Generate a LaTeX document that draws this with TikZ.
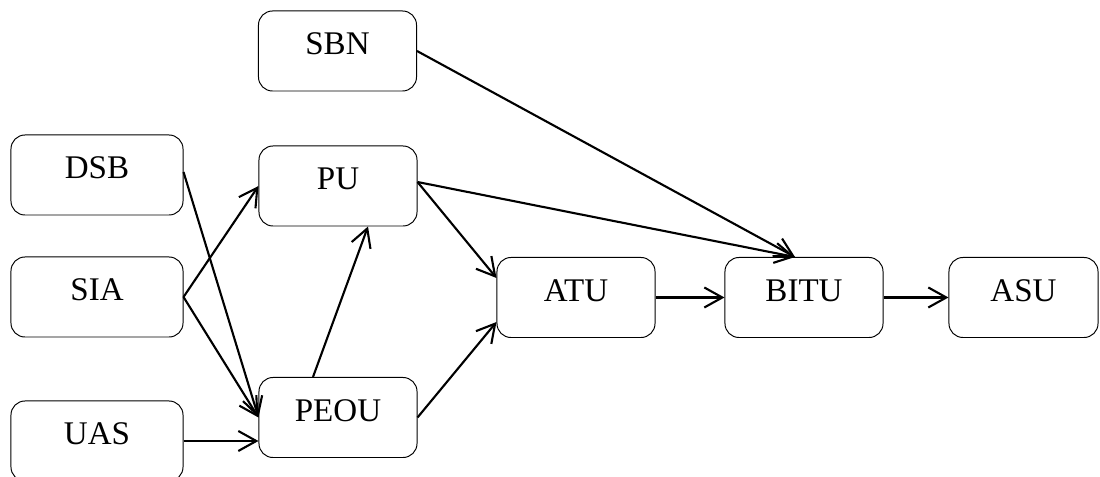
\documentclass[tikz,border=0pt]{standalone}
\usepackage{fontspec}
\setmainfont{Liberation Serif}
\usetikzlibrary{calc,arrows.meta}

\begin{document}
\begin{tikzpicture}[x=0.025cm,y=-0.025cm,
	box/.style={draw,line width=0.7pt,rounded corners=0.35cm,minimum height=2cm,
		inner sep=0pt,text height=0.2cm,text depth=0cm,
		font=\fontsize{23.5}{28}\selectfont},
	wide/.style={box,minimum width=4.3cm},
	mid/.style={box,minimum width=3.95cm},
	link/.style={line width=1.5pt,-{Straight Barb[length=0.45cm,width=0.5cm,line width=1.5pt]}}]
\useasboundingbox (0,0) rectangle (1100,477);

%% left column
\node[wide] (DSB) at (97,175) {DSB};
\node[wide] (SIA) at (97,297) {SIA};
\node[wide] (UAS) at (97,441) {UAS};

%% middle column
\node[mid] (SBN) at (337.5,51) {SBN};
\node[mid] (PU) at (338,186) {PU};
\node[mid] (PEOU) at (338,417.5) {PEOU};

%% right row
\node[mid] (ATU) at (576,297.5) {ATU};
\node[mid] (BITU) at (804,297.5) {BITU};
\node[box,minimum width=3.725cm] (ASU) at (1023.5,297.5) {ASU};

%% into PEOU and PU
\draw [link] ($(DSB.east)+(0,-3)$)--(PEOU.west);
\draw [link] (SIA.east)--(PU.west);
\draw [link] (SIA.east)--(PEOU.west);
\draw [link] (UAS.east)--(UAS.east -| PEOU.west);
\draw [link] ($(PEOU.north)+(-25,0)$)--($(PU.south)+(30,0)$);

%% into ATU
\draw [link] ($(PU.east)+(0,-4)$)--($(ATU.west)+(0,-19.5)$);
\draw [link] (PEOU.east)--($(ATU.west)+(0,24.5)$);

%% into BITU and ASU
\draw [link] (SBN.east)--($(BITU.north)+(-9,0)$);
\draw [link] ($(PU.east)+(0,-4)$)--($(BITU.north)+(-9,0)$);
\draw [link] (ATU.east)--(BITU.west);
\draw [link] (BITU.east)--(ASU.west);

\end{tikzpicture}
\end{document}
